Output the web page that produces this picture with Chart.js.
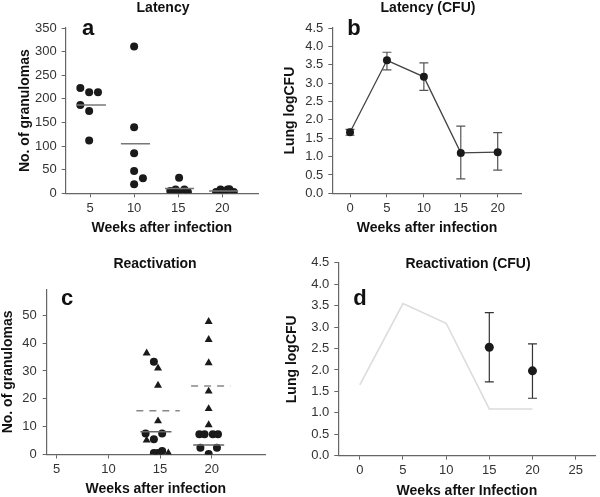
<!DOCTYPE html>
<html>
<head>
<meta charset="utf-8">
<script src="https://cdn.jsdelivr.net/npm/chart.js@4.4.0/dist/chart.umd.min.js"></script>
<style>
  body { margin: 0; width: 600px; height: 497px; background: #fff; position: relative; overflow: hidden;
         font-family: "Liberation Sans", Arial, sans-serif; }
  .box { position: absolute; }
  .txt { position: absolute; font-weight: bold; color: #111; white-space: nowrap; line-height: 1; transform: translateX(-50%); }
</style>
</head>
<body>
<div class="box" style="left:0;top:0;width:300px;height:250px"><canvas id="chartA"></canvas></div>
<div class="box" style="left:275px;top:0;width:325px;height:250px"><canvas id="chartB"></canvas></div>
<div class="box" style="left:0;top:250px;width:300px;height:250px"><canvas id="chartC"></canvas></div>
<div class="box" style="left:275px;top:250px;width:325px;height:250px"><canvas id="chartD"></canvas></div>

<div class="txt" style="left:163px;top:0px;font-size:14px">Latency</div>
<div class="txt" style="left:428px;top:0px;font-size:14px">Latency (CFU)</div>
<div class="txt" style="left:155px;top:256px;font-size:14px">Reactivation</div>
<div class="txt" style="left:468px;top:256px;font-size:14px">Reactivation (CFU)</div>
<div class="txt" style="left:88px;top:17px;font-size:22px">a</div>
<div class="txt" style="left:354px;top:17px;font-size:22px">b</div>
<div class="txt" style="left:67px;top:287px;font-size:22px">c</div>
<div class="txt" style="left:360px;top:287px;font-size:22px">d</div>

<script>
// panel a - granulomas during latency
const latWeeks = [5, 10, 15, 20];
const latCounts = [
  [223, 214, 214, 187, 174, 112],
  [311, 140, 85, 47, 19, 32],
  [5, 8, 33, 1, 8, 3],
  [3, 8, 1, 8, 8.5, 3],
];
const latJitter = [
  [-1.1, -0.1, 0.9, -1.1, -0.1, -0.1],
  [0, 0, 0, 0, 0, 1.0],
  [-0.9, -0.3, 0.1, 0, 0.7, 1.1],
  [-0.7, -0.2, 0.2, 0.6, 0.8, 1.3],
];
const latMeans = [187, 105, 10, 5];
const granTicksA = [0, 50, 100, 150, 200, 250, 300, 350];

// panel b - lung CFU during latency
const cfuWeeks = [0, 5, 10, 15, 20];
const cfuLatency = [1.66, 3.62, 3.17, 1.1, 1.12];
const cfuLatLow = [1.58, 3.36, 2.8, 0.39, 0.63];
const cfuLatHigh = [1.74, 3.84, 3.55, 1.83, 1.65];
const cfuTicks = [0, 0.5, 1, 1.5, 2, 2.5, 3, 3.5, 4, 4.5];

// panel c - granulomas after reactivation (circles / triangles)
const reactWeeks = [15, 20];
const reactCircles = [
  [33.3, 7.5, 7.5, 5.5, 0.5, 0.5, 1.3],
  [7.3, 7.3, 7.3, 7.3, 2.4, 2.4, 0.2],
];
const reactCirclesX = [
  [-0.6, -1.4, 0.2, -0.6, -0.6, -0.2, 0.2],
  [-1.2, -0.7, 0.1, 0.6, -1.1, 0.5, -0.3],
];
const reactTriangles = [
  [36.4, 31, 24.8, 12, 5.1, 0.5],
  [47.7, 41.2, 32.9, 22.7, 16.4, 10.6, 0],
];
const reactTrianglesX = [
  [-1.3, -0.2, -0.2, -0.2, -1.3, 0.8],
  [-0.3, -0.3, -0.3, -0.3, -0.3, -0.3, -0.3],
];
const reactCircleMeans = [8.2, 3.4];
const reactTriangleMeans = [15.7, 24.6];
const granTicksC = [0, 10, 20, 30, 40, 50];

// panel d - lung CFU after reactivation
const reactCfuWeeks = [15, 20];
const reactCfu = [2.53, 1.98];
const reactCfuLow = [1.72, 1.34];
const reactCfuHigh = [3.34, 2.61];
const cfuLatencyTrace = [1.65, 3.55, 3.09, 1.09, 1.09];

const FONT = "Liberation Sans";
const AXIS = "#666";

const errorBars = {
  id: "errorBars",
  beforeDatasetsDraw(chart) {
    const { ctx, scales } = chart;
    chart.data.datasets.forEach((ds) => {
      if (!ds.errLow) return;
      ctx.save();
      ctx.strokeStyle = ds.errColor || "#444";
      ctx.lineWidth = 1.2;
      ds.data.forEach((p, i) => {
        const px = scales.x.getPixelForValue(p.x);
        const top = scales.y.getPixelForValue(ds.errHigh[i]);
        const bot = scales.y.getPixelForValue(ds.errLow[i]);
        ctx.beginPath();
        ctx.moveTo(px, top);
        ctx.lineTo(px, bot);
        ctx.moveTo(px - 4.5, top);
        ctx.lineTo(px + 4.5, top);
        ctx.moveTo(px - 4.5, bot);
        ctx.lineTo(px + 4.5, bot);
        ctx.stroke();
      });
      ctx.restore();
    });
  },
};

function xAxis(min, max, ticks, title, height, titlePad) {
  return {
    type: "linear",
    min: min,
    max: max,
    afterBuildTicks: (s) => { s.ticks = ticks.map((v) => ({ value: v })); },
    afterFit: (s) => { s.height = height; },
    border: { display: true, color: AXIS, width: 1.2 },
    grid: { drawOnChartArea: false, drawTicks: true, tickLength: 4, color: AXIS },
    ticks: { color: "#333", font: { family: FONT, size: 13 }, padding: 3, maxRotation: 0, autoSkip: false },
    title: { display: true, text: title, color: "#111",
             font: { family: FONT, size: 14, weight: "bold" }, padding: { top: 0, bottom: titlePad } },
  };
}

function yAxis(max, ticks, decimals, title, width, titlePad, tickPad) {
  return {
    type: "linear",
    min: 0,
    max: max,
    afterBuildTicks: (s) => { s.ticks = ticks.map((v) => ({ value: v })); },
    afterFit: (s) => { s.width = width; },
    border: { display: true, color: AXIS, width: 1.2 },
    grid: { drawOnChartArea: false, drawTicks: true, tickLength: 4, color: AXIS },
    ticks: { color: "#333", font: { family: FONT, size: 13 }, padding: tickPad, autoSkip: false,
             callback: (v) => Number(v).toFixed(decimals) },
    title: { display: true, text: title, color: "#111",
             font: { family: FONT, size: 14, weight: "bold" }, padding: { top: titlePad, bottom: 0 } },
  };
}

function meanLine(x0, x1, y, color, dash) {
  return {
    type: "scatter",
    data: [{ x: x0, y: y }, { x: x1, y: y }],
    showLine: true,
    borderColor: color,
    borderWidth: 1.5,
    borderDash: dash || [],
    pointRadius: 0,
  };
}

function baseOptions(padding, scales) {
  return {
    responsive: true,
    maintainAspectRatio: false,
    animation: false,
    layout: { padding: padding },
    plugins: { legend: { display: false }, tooltip: { enabled: false } },
    scales: scales,
  };
}

// ---- a ----
const dotsA = [];
latWeeks.forEach((w, g) => {
  latCounts[g].forEach((v, i) => dotsA.push({ x: w + latJitter[g][i], y: v }));
});
new Chart(document.getElementById("chartA"), {
  type: "scatter",
  data: {
    datasets: [
      ...latWeeks.map((w, g) => meanLine(w - 1.5, w + 1.8, latMeans[g], "#777")),
      { data: dotsA, pointRadius: 4, pointBackgroundColor: "#1a1a1a", pointBorderWidth: 0 },
    ],
  },
  options: baseOptions({ top: 28, right: 42, bottom: 0, left: 0 }, {
    x: xAxis(2.24, 24.05, latWeeks, "Weeks after infection", 56.7, 13.6),
    y: yAxis(350, granTicksA, 0, "No. of granulomas", 65.7, 16.5, 5),
  }),
});

// ---- b ----
new Chart(document.getElementById("chartB"), {
  type: "scatter",
  data: {
    datasets: [{
      data: cfuWeeks.map((w, i) => ({ x: w, y: cfuLatency[i] })),
      showLine: true,
      borderColor: "#444",
      borderWidth: 1.3,
      pointRadius: 4,
      pointBackgroundColor: "#1a1a1a",
      pointBorderWidth: 0,
      errLow: cfuLatLow,
      errHigh: cfuLatHigh,
      errColor: "#555",
    }],
  },
  options: baseOptions({ top: 28, right: 78.3, bottom: 0, left: 0 }, {
    x: xAxis(-2.4, 23.25, cfuWeeks, "Weeks after infection", 56.7, 13.6),
    y: yAxis(4.5, cfuTicks, 1, "Lung logCFU", 57.3, 6.6, 5),
  }),
  plugins: [errorBars],
});

// ---- c ----
const triC = [];
const dotC = [];
reactWeeks.forEach((w, g) => {
  reactTriangles[g].forEach((v, i) => triC.push({ x: w + reactTrianglesX[g][i], y: v }));
  reactCircles[g].forEach((v, i) => dotC.push({ x: w + reactCirclesX[g][i], y: v }));
});
new Chart(document.getElementById("chartC"), {
  type: "scatter",
  data: {
    datasets: [
      meanLine(12.7, 16.9, reactTriangleMeans[0], "#888", [7, 6]),
      meanLine(18.0, 21.8, reactTriangleMeans[1], "#888", [7, 6]),
      meanLine(13.1, 16.1, reactCircleMeans[0], "#666"),
      meanLine(18.2, 21.2, reactCircleMeans[1], "#666"),
      { data: triC, pointStyle: "triangle", pointRadius: 4.6, pointBackgroundColor: "#1a1a1a", pointBorderWidth: 0 },
      { data: dotC, pointRadius: 4, pointBackgroundColor: "#1a1a1a", pointBorderWidth: 0 },
    ],
  },
  options: baseOptions({ top: 39.3, right: 35, bottom: 0, left: 0 }, {
    x: xAxis(4.03, 25.15, [5, 10, 15, 20], "Weeks after infection", 45.5, 2.3),
    y: yAxis(59.3, granTicksC, 0, "No. of granulomas", 46.7, 0, 6),
  }),
});

// ---- d ----
new Chart(document.getElementById("chartD"), {
  type: "scatter",
  data: {
    datasets: [
      {
        data: cfuWeeks.map((w, i) => ({ x: w, y: cfuLatencyTrace[i] })),
        showLine: true,
        borderColor: "#dcdcdc",
        borderWidth: 1.6,
        pointRadius: 0,
      },
      {
        data: reactCfuWeeks.map((w, i) => ({ x: w, y: reactCfu[i] })),
        pointRadius: 4.5,
        pointBackgroundColor: "#1a1a1a",
        pointBorderWidth: 0,
        errLow: reactCfuLow,
        errHigh: reactCfuHigh,
        errColor: "#333",
      },
    ],
  },
  options: baseOptions({ top: 12.3, right: 1.7, bottom: 0, left: 0 }, {
    x: xAxis(-2.49, 27.3, [0, 5, 10, 15, 20, 25], "Weeks after Infection", 44.3, 0.9),
    y: yAxis(4.5, cfuTicks, 1, "Lung logCFU", 63.3, 8.6, 5),
  }),
  plugins: [errorBars],
});
</script>
</body>
</html>
